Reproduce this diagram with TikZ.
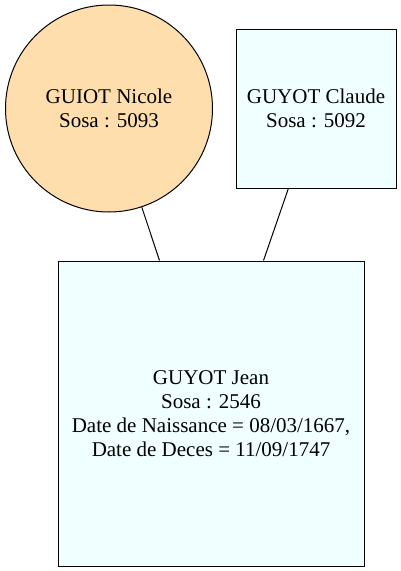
\documentclass[tikz,border=0pt]{standalone}
\usepackage{fontspec}
\setmainfont{Liberation Serif}
\definecolor{navajo}{RGB}{255,222,173}
\definecolor{azurefill}{RGB}{240,255,255}
\begin{document}
\begin{tikzpicture}[x=1pt,y=-1pt,
  person/.style={draw=black, line width=1pt, inner sep=0pt, align=center,
    font=\fontsize{21}{24}\selectfont},
  link/.style={draw=black, line width=1pt}]
\useasboundingbox (0,0) rectangle (400,571);
\node[person, circle, fill=navajo, minimum size=207pt] (a) at (109,108.5) {GUIOT Nicole\\Sosa : 5093};
\node[person, rectangle, fill=azurefill, minimum width=160pt, minimum height=159pt] (b) at (316,108.5) {GUYOT Claude\\Sosa : 5092};
\node[person, rectangle, fill=azurefill, minimum width=306pt, minimum height=305pt] (c) at (211,413.5) {GUYOT Jean\\Sosa : 2546\\Date de Naissance = 08/03/1667,\\Date de Deces = 11/09/1747};
\draw[link] (a) -- ([xshift=102pt]c.north west);
\draw[link] (b) -- ([xshift=206pt]c.north west);
\end{tikzpicture}
\end{document}
